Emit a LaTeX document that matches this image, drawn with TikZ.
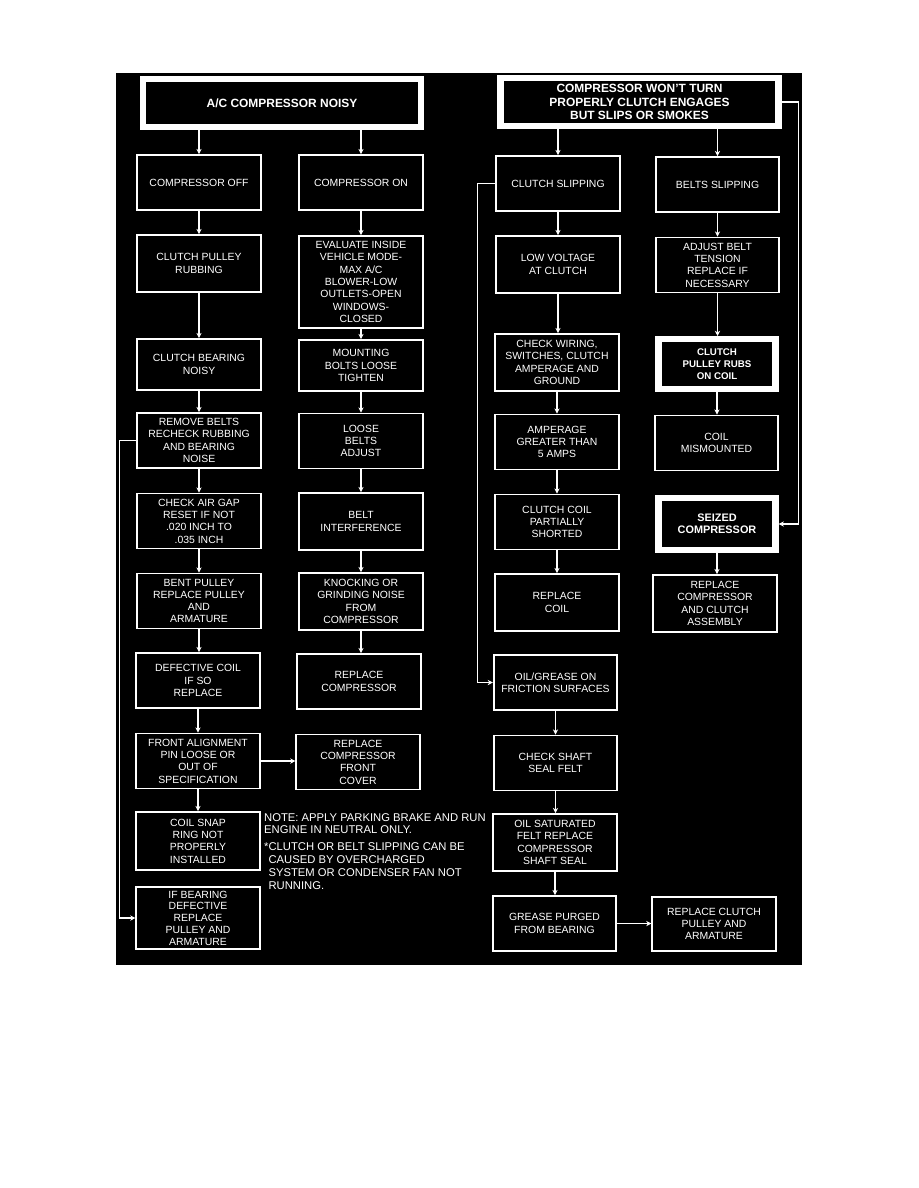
\documentclass[tikz,border=0pt]{standalone}
\usepackage{fontspec}
\setmainfont{Liberation Sans}
\usetikzlibrary{arrows.meta, positioning}

\begin{document}
\begin{tikzpicture}[
    x=0.3mm, y=-0.3mm,
    every node/.style={font=\fontsize{8.9}{10.5}\selectfont, text=white},
    box/.style={rectangle, draw=white, line width=1.5pt, fill=black,
                minimum width=37mm, minimum height=16.5mm,
                align=center, inner sep=1.5pt},
    titlebox/.style={box, line width=1.9mm, minimum width=83.4mm, minimum height=14.4mm,
                     font=\fontsize{10.2}{11.5}\selectfont\bfseries},
    thickbox/.style={box, line width=1.9mm, minimum width=35.1mm, minimum height=14.9mm,
                     font=\fontsize{9.3}{10.5}\selectfont\bfseries},
    arrow/.style={-{Stealth[length=4.5pt, width=4.5pt]}, draw=white, line width=1.2pt}
]
\useasboundingbox (0,0) rectangle (918,1188);
\node[fill=black, anchor=north west, inner sep=0pt, outer sep=0pt,
      minimum width=205.8mm, minimum height=267.6mm] (panel) at (116,73) {};

% headings
\node[titlebox] (noisy) at (282,103) {A/C COMPRESSOR NOISY};
\node[titlebox] (wontturn) at (639.5,102) {COMPRESSOR WON'T TURN\\PROPERLY CLUTCH ENGAGES\\BUT SLIPS OR SMOKES};

% compressor off
\node[box] (off) at (199,182.5) {COMPRESSOR OFF};
\node[box, minimum height=17.1mm] (rubbing) at (199,263.5) {CLUTCH PULLEY\\RUBBING};
\node[box, minimum height=15.3mm] (bearing) at (199,364.5) {CLUTCH BEARING\\NOISY};
\node[box] (removebelts) at (199,440.5) {REMOVE BELTS\\RECHECK RUBBING\\AND BEARING\\NOISE};
\node[box] (airgap) at (199,521) {CHECK AIR GAP\\RESET IF NOT\\.020 INCH TO\\.035 INCH};
\node[box] (bentpulley) at (199,601) {BENT PULLEY\\REPLACE PULLEY\\AND\\ARMATURE};
\node[box] (defcoil) at (198,680.5) {DEFECTIVE COIL\\IF SO\\REPLACE};
\node[box] (alignpin) at (198,761) {FRONT ALIGNMENT\\PIN LOOSE OR\\OUT OF\\SPECIFICATION};
\node[box, minimum height=17.4mm] (snapring) at (198,841) {COIL SNAP\\RING NOT\\PROPERLY\\INSTALLED};
\node[box, minimum height=18.6mm, inner ysep=0.5pt, font=\fontsize{8.9}{10}\selectfont]
    (ifbearing) at (198,918) {IF BEARING\\DEFECTIVE\\REPLACE\\PULLEY AND\\ARMATURE};

% compressor on
\node[box] (on) at (361,182.5) {COMPRESSOR ON};
\node[box, minimum height=27.6mm] (evaluate) at (361,282) {EVALUATE INSIDE\\VEHICLE MODE-\\MAX A/C\\BLOWER-LOW\\OUTLETS-OPEN\\WINDOWS-\\CLOSED};
\node[box, minimum height=15.3mm] (mounting) at (361,365.5) {MOUNTING\\BOLTS LOOSE\\TIGHTEN};
\node[box] (loosebelts) at (361,441) {LOOSE\\BELTS\\ADJUST};
\node[box, minimum height=17.1mm] (interference) at (361,521.5) {BELT\\INTERFERENCE};
\node[box, minimum height=17.1mm] (knocking) at (361,601.5) {KNOCKING OR\\GRINDING NOISE\\FROM\\COMPRESSOR};
\node[box] (replcomp) at (359,681.5) {REPLACE\\COMPRESSOR};
\node[box] (frontcover) at (358,762) {REPLACE\\COMPRESSOR\\FRONT\\COVER};

\node[anchor=north west, align=left, inner sep=0pt, font=\fontsize{9.6}{11}\selectfont]
    (note) at (264,813)
    {NOTE: APPLY PARKING BRAKE AND RUN\\ENGINE IN NEUTRAL ONLY.\\[3pt]
     *CLUTCH OR BELT SLIPPING CAN BE\\\phantom{*}CAUSED BY OVERCHARGED\\
     \phantom{*}SYSTEM OR CONDENSER FAN NOT\\\phantom{*}RUNNING.};

% clutch slipping
\node[box] (slipping) at (558,183.5) {CLUTCH SLIPPING};
\node[box, minimum height=17.1mm] (lowvolt) at (558,264.5) {LOW VOLTAGE\\AT CLUTCH};
\node[box, minimum height=17.1mm] (wiring) at (557,362.5) {CHECK WIRING,\\SWITCHES, CLUTCH\\AMPERAGE AND\\GROUND};
\node[box] (amperage) at (557,442) {AMPERAGE\\GREATER THAN\\5 AMPS};
\node[box] (clutchcoil) at (557,522) {CLUTCH COIL\\PARTIALLY\\SHORTED};
\node[box, minimum height=17.1mm] (replcoil) at (557,602.5) {REPLACE\\COIL};
\node[box] (oilgrease) at (555.5,682.5) {OIL/GREASE ON\\FRICTION SURFACES};
\node[box] (shaftfelt) at (555.5,763) {CHECK SHAFT\\SEAL FELT};
\node[box, minimum height=17.1mm] (saturated) at (555,842.5) {OIL SATURATED\\FELT REPLACE\\COMPRESSOR\\SHAFT SEAL};
\node[box] (purged) at (554.5,923.5) {GREASE PURGED\\FROM BEARING};
\node[box, minimum height=16.2mm] (replclutch) at (714,924) {REPLACE CLUTCH\\PULLEY AND\\ARMATURE};

% belts slipping
\node[box] (beltslip) at (717.5,184.5) {BELTS SLIPPING};
\node[box] (adjustbelt) at (717.5,265) {ADJUST BELT\\TENSION\\REPLACE IF\\NECESSARY};
\node[thickbox, font=\fontsize{8.3}{10.5}\selectfont\bfseries] (rubscoil) at (717,364) {CLUTCH\\PULLEY RUBS\\ON COIL};
\node[box] (mismounted) at (716.5,443) {COIL\\MISMOUNTED};
\node[thickbox, minimum height=15.75mm] (seized) at (717,524) {SEIZED\\COMPRESSOR};
\node[box, minimum height=17.1mm] (replassy) at (715,603.5) {REPLACE\\COMPRESSOR\\AND CLUTCH\\ASSEMBLY};

\draw[arrow] (noisy.south -| off) -- (off.north);
\draw[arrow] (noisy.south -| on) -- (on.north);
\draw[arrow] (wontturn.south -| slipping) -- (slipping.north);
\draw[arrow] (wontturn.south -| beltslip) -- (beltslip.north);

\draw[arrow] (off.south) -- (rubbing.north);
\draw[arrow] (rubbing.south) -- (bearing.north);
\draw[arrow] (bearing.south) -- (removebelts.north);
\draw[arrow] (removebelts.south) -- (airgap.north);
\draw[arrow] (airgap.south) -- (bentpulley.north);
\draw[arrow] (bentpulley.south) -- (bentpulley.south |- defcoil.north);
\draw[arrow] (defcoil.south) -- (alignpin.north);
\draw[arrow] (alignpin.south) -- (snapring.north);
\draw[arrow] (removebelts.west) -- ++(-17,0) |- (ifbearing.west);
\draw[arrow] (alignpin.east) -- (alignpin.east -| frontcover.west);

\draw[arrow] (on.south) -- (evaluate.north);
\draw[arrow] (evaluate.south) -- (mounting.north);
\draw[arrow] (mounting.south) -- (loosebelts.north);
\draw[arrow] (loosebelts.south) -- (interference.north);
\draw[arrow] (interference.south) -- (knocking.north);
\draw[arrow] (knocking.south) -- (knocking.south |- replcomp.north);

\draw[arrow] (slipping.south) -- (slipping.south |- lowvolt.north);
\draw[arrow] (lowvolt.south) -- (lowvolt.south |- wiring.north);
\draw[arrow] (wiring.south) -- (amperage.north);
\draw[arrow] (amperage.south) -- (clutchcoil.north);
\draw[arrow] (clutchcoil.south) -- (replcoil.north);
\draw[arrow] (slipping.west) -- ++(-18,0) |- (oilgrease.west);
\draw[arrow] (oilgrease.south) -- (shaftfelt.north);
\draw[arrow] (shaftfelt.south) -- (shaftfelt.south |- saturated.north);
\draw[arrow] (saturated.south) -- (saturated.south |- purged.north);
\draw[arrow] (purged.east) -- (purged.east -| replclutch.west);

\draw[arrow] (beltslip.south) -- (adjustbelt.north);
\draw[arrow] (adjustbelt.south) -- (adjustbelt.south |- rubscoil.north);
\draw[arrow] (rubscoil.south) -- (rubscoil.south |- mismounted.north);
\draw[arrow] (wontturn.east) -- ++(17,0) |- (seized.east);
\draw[arrow] (seized.south) -- (seized.south |- replassy.north);
\end{tikzpicture}
\end{document}
